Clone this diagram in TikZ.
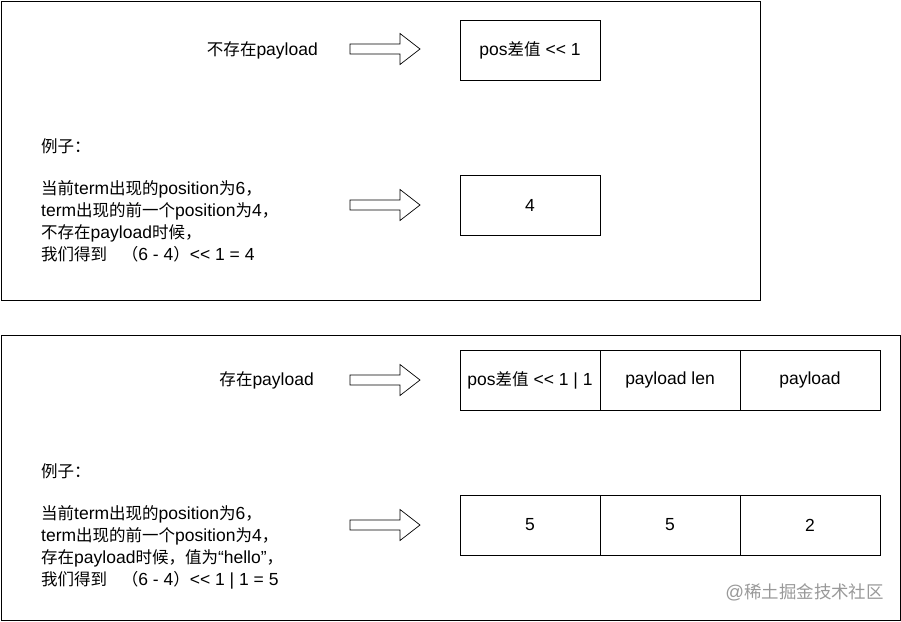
\documentclass[tikz,border=0pt]{standalone}
\usepackage{fontspec}
\setmainfont{Liberation Sans}[Ligatures=TeXOff]
\newfontfamily\cjk[Scale=0.943]{Noto Sans CJK SC}
\XeTeXinterchartokenstate=1
\newXeTeXintercharclass\CJKcls
\newcount\cjkcc
\cjkcc="2E80
\loop
  \XeTeXcharclass\cjkcc=\CJKcls
  \advance\cjkcc 1
\ifnum\cjkcc<"A000 \repeat
\cjkcc="FF00
\loop
  \XeTeXcharclass\cjkcc=\CJKcls
  \advance\cjkcc 1
\ifnum\cjkcc<"FFF0 \repeat
\XeTeXinterchartoks 0 \CJKcls = {\cjk}
\XeTeXinterchartoks 4095 \CJKcls = {\cjk}
\XeTeXinterchartoks \CJKcls 0 = {\rmfamily}
\XeTeXinterchartoks \CJKcls 4095 = {\rmfamily}
\begin{document}
\begin{tikzpicture}[x=1pt,y=-1pt,
  frame/.style={draw=black,line width=0.8pt},
  cell/.style={draw=black,line width=0.8pt,outer sep=0pt,minimum width=140pt,minimum height=60pt,inner sep=0pt,font=\fontsize{17.5}{20}\selectfont},
  lbl/.style={font=\fontsize{17.5}{20}\selectfont,inner sep=0pt},
  para/.style={font=\fontsize{17.5}{22}\selectfont,inner sep=0pt,align=left,anchor=base west},
  blockarrow/.pic={\draw[line width=0.7pt,fill=white] (-35,-5) -- (15,-5) -- (15,-15.5) -- (35,0) -- (15,15.5) -- (15,5) -- (-35,5) -- cycle;}
]
\useasboundingbox (0,0) rectangle (901,621);
\fill[white] (0,0) rectangle (901,621);
% frames
\draw[frame] (1,1) rectangle (760,300);
\draw[frame] (1,335) rectangle (900,620);
% top panel
\node[lbl,anchor=east] (t1) at (318,50) {不存在payload};
\pic at (385,49) {blockarrow};
\node[cell] (c1) at (530,50) {pos差值 <{}< 1};
\node[lbl,anchor=west] (ex1) at (41,146) {例子：};
\node[para] (p1) at (41,260) {当前term出现的position为6，\\term出现的前一个position为4，\\不存在payload时候，\\我们得到 \ \ （6 - 4）<{}< 1 = 4};
\pic at (385,205) {blockarrow};
\node[cell] (c2) at (530,205) {4};
% bottom panel
\node[lbl,anchor=east] (t2) at (314,380) {存在payload};
\pic at (385,380) {blockarrow};
\node[cell] (d1) at (530,380) {pos差值 <{}< 1 | 1};
\node[cell,anchor=west] (d2) at (d1.east) {payload len};
\node[cell,anchor=west] (d3) at (d2.east) {payload};
\node[lbl,anchor=west] (ex2) at (41,471) {例子：};
\node[para] (p2) at (41,585) {当前term出现的position为6，\\term出现的前一个position为4，\\存在payload时候，值为“hello”，\\我们得到 \ \ （6 - 4）<{}< 1 | 1 = 5};
\pic at (385,525) {blockarrow};
\node[cell] (e1) at (530,525) {5};
\node[cell,anchor=west] (e2) at (e1.east) {5};
\node[cell,anchor=west] (e3) at (e2.east) {2};
% watermark
\node[inner sep=0pt,font=\fontsize{18.5}{22}\selectfont,anchor=east,text=black!40] (wm) at (884,592) {@稀土掘金技术社区};
\end{tikzpicture}
\end{document}
